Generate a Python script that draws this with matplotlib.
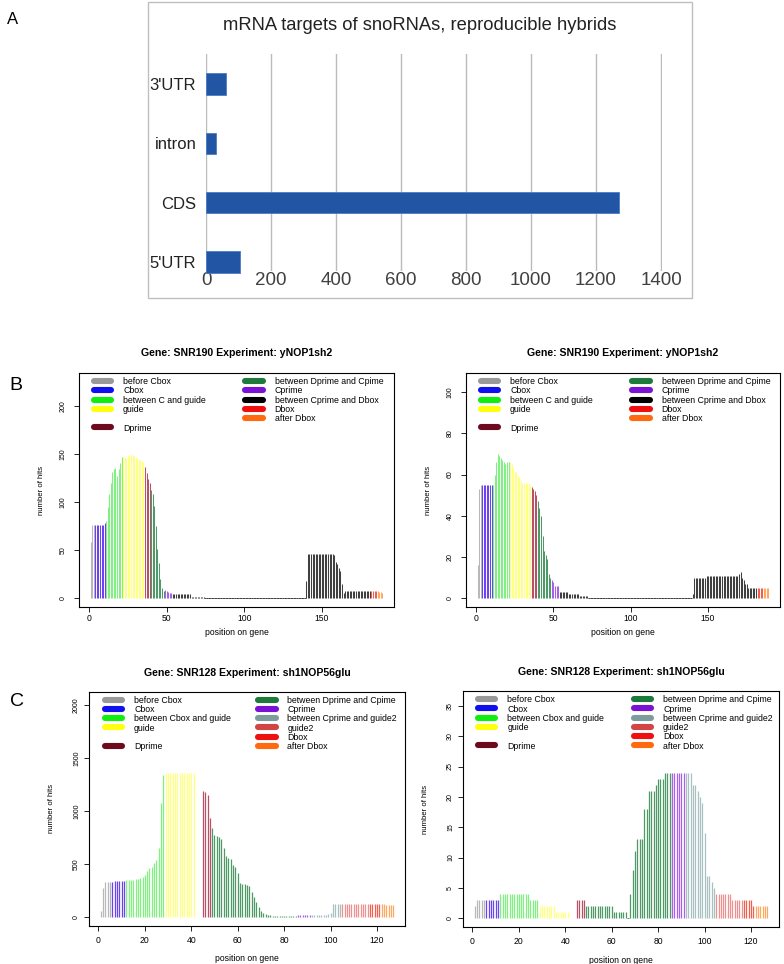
import numpy as np
import matplotlib
matplotlib.use("Agg")
import matplotlib.pyplot as plt
from matplotlib.lines import Line2D
from matplotlib.patches import Rectangle

plt.rcParams['font.family'] = ['Liberation Sans', 'DejaVu Sans']

W, H = 784, 964

# ---------------- Panel A data ----------------
a_categories = ["5'UTR", "CDS", "intron", "3'UTR"]
a_counts = [105, 1270, 30, 60]
a_title = "mRNA targets of snoRNAs, reproducible hybrids"
a_ticks = [0, 200, 400, 600, 800, 1000, 1200, 1400]

# ---------------- Panel B data (SNR190, 189 positions) ----------------
snr190_regions = ["before Cbox", "Cbox", "between C and guide", "guide", "Dprime",
                  "between Dprime and Cprime", "Cprime", "between Cprime and Dbox",
                  "Dbox", "after Dbox"]
snr190_region_len = [3, 7, 11, 14, 4, 9, 5, 128, 4, 4]

b_left_hits = ([58, 76, 76] +
               [76, 76, 76, 76, 76, 76, 78] +
               [80, 95, 108, 120, 131, 134, 135, 127, 134, 141, 147] +
               [147, 147, 146, 148, 149, 150, 149, 148, 146, 146, 145, 144, 143, 142] +
               [136, 130, 124, 120] +
               [113, 108, 96, 75, 51, 37, 20, 11, 8] +
               [9, 8, 7, 6, 6] +
               [4] * 12 + [1] * 9 + [0] * 65 + [18] + [46] * 17 +
               [45, 38, 36, 31, 28, 15, 6] + [8] * 17 +
               [8, 8, 8, 8] +
               [8, 7, 7, 6])

b_right_hits = ([16, 53, 55] +
                [55] * 7 +
                [55, 60, 66, 70, 69, 68, 67, 66, 65, 66, 66] +
                [66, 65, 63, 61, 61, 60, 59, 57, 56, 56, 56, 56, 56, 55] +
                [54, 53, 52, 50] +
                [47, 44, 40, 30, 23, 21, 19, 12, 10] +
                [9, 8, 6, 6, 6] +
                [3] * 6 + [2] * 7 + [1] * 6 + [0] * 67 + [2] + [10] * 8 + [11] * 21 +
                [12, 13, 10, 9, 7, 7] + [5] * 6 +
                [5] * 4 +
                [5] * 4)

# ---------------- Panel C data (SNR128, 127 positions) ----------------
snr128_regions = ["before Cbox", "Cbox", "between Cbox and guide", "guide", "Dprime",
                  "between Dprime and Cprime", "Cprime", "between Cprime and guide2",
                  "guide2", "Dbox", "after Dbox"]
snr128_region_len = [5, 6, 17, 16, 4, 37, 6, 13, 12, 5, 6]

nan = float('nan')
c_left_hits = ([63, 274, 331, 331, 337] +
               [337, 340, 342, 343, 345, 347] +
               [350, 352, 355, 355, 358, 365, 372, 380, 395, 440, 465, 475, 510, 545, 655, 1078, 1338] +
               [1360, 1362] + [1365] * 11 + [nan] * 3 +
               [1193, 1181, 1156, 935] +
               [841, 778, 768, 756, 737, 652, 580, 560, 548, 490, 470, 420, 320, 315, 312, 306,
                300, 243, 190, 140, 95, 60, 42, 35, 25, 20] +
               [15, 15, 15, 14, 14, 14, 14, 14, 15, 15, 16] +
               [18, 19, 20, 20, 20, 20] +
               [20, 20, 20, 20, 20, 22, 25, 30, 40, 130, 130, 130, 130] +
               [130] * 12 +
               [130, 130, 128, 128, 128] +
               [125, 125, 120, 120, 118, 115])

c_right_hits = ([2, 3, 3, 3, 3] +
                [3] * 6 +
                [4] * 13 + [3] * 4 +
                [2] * 7 + [1] * 6 + [nan] * 3 +
                [3] * 4 +
                [2] * 12 + [1] * 6 + [0] +
                [4, 8, 11, 13, 13, 13, 18, 18, 21, 21, 21, 22, 23, 23, 23, 24, 24, 24] +
                [24] * 6 +
                [24, 24, 24, 22, 22, 21, 20, 19, 14, 7, 7, 6, 5] +
                [4] * 7 + [3] * 5 +
                [3, 3, 3, 3, 2] +
                [2] * 6)

region_colors = {
    "before Cbox": "#999999",
    "Cbox": "#1010EE",
    "between C and guide": "#10EE10",
    "between Cbox and guide": "#10EE10",
    "guide": "#FFFF10",
    "Dprime": "#6E0A1E",
    "between Dprime and Cprime": "#1E7A3A",
    "Cprime": "#7A12D6",
    "between Cprime and Dbox": "#000000",
    "between Cprime and guide2": "#7F9C9C",
    "guide2": "#D24545",
    "Dbox": "#EE1010",
    "after Dbox": "#FF6A10",
}
bar_colors = {
    "before Cbox": "#B8B8B8",
    "Cbox": "#6A44F0",
    "between C and guide": "#80F080",
    "between Cbox and guide": "#80F080",
    "guide": "#FFFF80",
    "Dprime": "#B85068",
    "between Dprime and Cprime": "#4E9A66",
    "Cprime": "#A860E8",
    "between Cprime and Dbox": "#404040",
    "between Cprime and guide2": "#A8C0C0",
    "guide2": "#EE9090",
    "Dbox": "#F06050",
    "after Dbox": "#FFA860",
}

fig = plt.figure(figsize=(W / 100, H / 100), dpi=100)


def px_axes(l, t, r, b):
    return fig.add_axes([l / W, 1 - b / H, (r - l) / W, (b - t) / H])


# ================= Panel A =================
fig.add_artist(Rectangle((148 / W, 1 - 298 / H), (692 - 148) / W, 296 / H,
                         transform=fig.transFigure, fill=False,
                         edgecolor="#BFBFBF", lw=1.0))
axA = px_axes(206, 54.3, 662, 270.5)
ypos = np.arange(len(a_categories))
axA.barh(ypos, a_counts, height=0.36, color="#2255A4", edgecolor="#4A7BC8", lw=0.6,
         zorder=3, clip_on=False)
axA.set_xlim(0, 1403)
axA.set_ylim(-0.14, 3.5)
axA.set_xticks(a_ticks)
axA.set_xticklabels([str(t) for t in a_ticks], fontsize=13.5, color="#404040")
axA.set_yticks(ypos)
axA.set_yticklabels(a_categories, fontsize=12, color="#222222")
axA.tick_params(length=0)
axA.tick_params(axis='x', pad=1)
axA.tick_params(axis='y', pad=7)
axA.grid(axis='x', color="#BBBBBB", lw=1.0, zorder=0)
for s in axA.spines.values():
    s.set_visible(False)
axA.set_axisbelow(True)
fig.text(420 / W, 1 - 25 / H, a_title, ha='center', va='center', fontsize=13.2, color="#222222")
fig.text(7 / W, 1 - 20 / H, "A", ha='left', va='center', fontsize=12)
fig.text(9 / W, 1 - 385 / H, "B", ha='left', va='center', fontsize=14)
fig.text(10 / W, 1 - 702 / H, "C", ha='left', va='center', fontsize=14)


def hits_panel(ax, hits, regions, region_len, title, yticks, xticks, lw, legend_labels, leg_x, col_sp):
    hits = np.array(hits, dtype=float)
    n = len(hits)
    pos = np.arange(1, n + 1)
    reg = np.repeat(np.arange(len(regions)), region_len)
    cols = [bar_colors[regions[r]] for r in reg]
    ok = np.isfinite(hits)
    nz = ok & (hits > 0)
    ax.vlines(pos[nz], 0, hits[nz], colors=[cols[i] for i in np.where(nz)[0]], lw=lw)
    z = ok & (hits == 0)
    for i in np.where(z)[0]:
        ax.plot(pos[i], 0, ls='none', marker='_', ms=1.3, mew=0.7, color=cols[i])
    ymax = np.nanmax(hits) * 1.5
    ax.set_ylim(-0.04 * ymax, 1.04 * ymax)
    ax.set_xlim(1 - 0.04 * (n - 1), n + 0.04 * (n - 1))
    ax.set_yticks(yticks)
    ax.set_yticklabels([str(t) for t in yticks], rotation=90, va='center', fontsize=5)
    ax.set_xticks(xticks)
    ax.set_xticklabels([str(t) for t in xticks], fontsize=6.2)
    ax.tick_params(direction='out', length=3.5, width=0.6)
    for s in ax.spines.values():
        s.set_linewidth(0.8)
    handles = []
    for lab in legend_labels:
        if lab == "":
            handles.append(Line2D([], [], color='none'))
        else:
            handles.append(Line2D([], [], color=region_colors[lab], lw=4.4, solid_capstyle='round'))
    disp = [("between Dprime and Cpime" if l == "between Dprime and Cprime" else l) for l in legend_labels]
    ax.legend(handles, disp, loc='upper left', bbox_to_anchor=(leg_x, 0.982), ncol=2,
              frameon=False, fontsize=6.3, handlelength=2.0, handletextpad=1.35,
              labelspacing=0.03, columnspacing=col_sp, borderaxespad=0, borderpad=0)
    ax.text(0.5, 1.085, title, transform=ax.transAxes, ha='center', va='center',
            fontsize=7.6, fontweight='bold')
    ax.set_xlabel("position on gene", fontsize=6.2)
    ax.set_ylabel("number of hits", fontsize=5.6)


b_leg = ["before Cbox", "Cbox", "between C and guide", "guide", "", "Dprime",
         "between Dprime and Cprime", "Cprime", "between Cprime and Dbox", "Dbox", "after Dbox"]
c_leg = ["before Cbox", "Cbox", "between Cbox and guide", "guide", "", "Dprime",
         "between Dprime and Cprime", "Cprime", "between Cprime and guide2", "guide2", "Dbox", "after Dbox"]

axBL = px_axes(79, 373, 394, 607)
hits_panel(axBL, b_left_hits, snr190_regions, snr190_region_len,
           "Gene: SNR190 Experiment: yNOP1sh2", [0, 50, 100, 150, 200], [0, 50, 100, 150], 0.75,
           b_leg, 0.047, 4.5)
axBR = px_axes(466, 373, 780, 607)
hits_panel(axBR, b_right_hits, snr190_regions, snr190_region_len,
           "Gene: SNR190 Experiment: yNOP1sh2", [0, 20, 40, 60, 80, 100], [0, 50, 100, 150], 0.75,
           b_leg, 0.047, 4.5)
axCL = px_axes(89, 691.5, 405, 926)
hits_panel(axCL, c_left_hits, snr128_regions, snr128_region_len,
           "Gene: SNR128 Experiment: sh1NOP56glu", [0, 500, 1000, 1500, 2000],
           [0, 20, 40, 60, 80, 100, 120], 0.9, c_leg, 0.05, 3.1)
axCR = px_axes(463, 691, 779, 927)
hits_panel(axCR, c_right_hits, snr128_regions, snr128_region_len,
           "Gene: SNR128 Experiment: sh1NOP56glu", [0, 5, 10, 15, 20, 25, 30, 35],
           [0, 20, 40, 60, 80, 100, 120], 0.9, c_leg, 0.047, 3.4)

for ax in (axBL, axBR):
    ax.xaxis.set_label_coords(0.5, -0.107)
    ax.xaxis.label.set_va('center')
    ax.yaxis.set_label_coords(-0.118, 0.5)
    ax.yaxis.label.set_va('center')
    ax.tick_params(axis='x', pad=1.5)
    ax.tick_params(axis='y', pad=5.5)
for ax in (axCL, axCR):
    ax.xaxis.set_label_coords(0.5, -0.14)
    ax.xaxis.label.set_va('center')
    ax.yaxis.set_label_coords(-0.12, 0.5)
    ax.yaxis.label.set_va('center')
    ax.tick_params(axis='x', pad=3.5)
    ax.tick_params(axis='y', pad=3)
    ax.texts[0].set_position((0.5, 1.079))

fig.savefig("out.png", dpi=100)
